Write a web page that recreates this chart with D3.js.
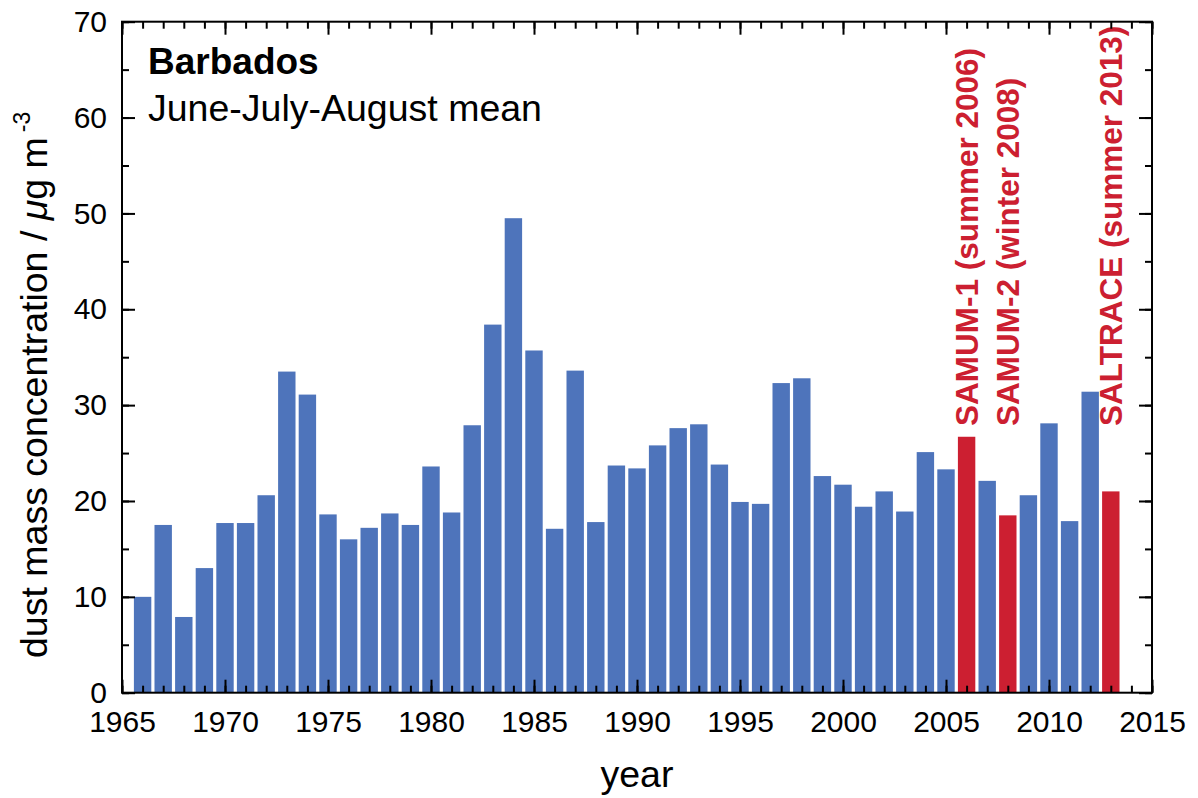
<!DOCTYPE html>
<html>
<head>
<meta charset="utf-8">
<script src="https://cdn.jsdelivr.net/npm/d3@7"></script>
<style>
  html, body { margin: 0; padding: 0; background: #fff; }
  svg { display: block; font-family: "Liberation Sans", Arial, sans-serif; }
</style>
</head>
<body>
<svg id="chart" width="1198" height="798"></svg>
<script>
// ---- data ----
const years = [1966,1967,1968,1969,1970,1971,1972,1973,1974,1975,1976,1977,1978,1979,1980,
  1981,1982,1983,1984,1985,1986,1987,1988,1989,1990,1991,1992,1993,1994,1995,1996,1997,1998,
  1999,2000,2001,2002,2003,2004,2005,2006,2007,2008,2009,2010,2011,2012,2013];
const dust = [10.0,17.5,7.9,13.0,17.7,17.7,20.6,33.5,31.1,18.6,16.0,17.2,18.7,17.5,23.6,
  18.8,27.9,38.4,49.5,35.7,17.1,33.6,17.8,23.7,23.4,25.8,27.6,28.0,23.8,19.9,19.7,32.3,32.8,
  22.6,21.7,19.4,21.0,18.9,25.1,23.3,26.7,22.1,18.5,20.6,28.1,17.9,31.4,21.0];
const campaignYears = [2006, 2008, 2013];
const campaignLabels = ["SAMUM-1 (summer 2006)", "SAMUM-2 (winter 2008)", "SALTRACE (summer 2013)"];
const xTicks = [1965,1970,1975,1980,1985,1990,1995,2000,2005,2010,2015];
const yTicks = [0,10,20,30,40,50,60,70];

// ---- layout ----
const svg = d3.select("#chart");
const L = 122, R = 1152, T = 21.7, B = 692.7;
const x = d3.scaleLinear().domain([1965, 2015]).range([L, R]);
const y = d3.scaleLinear().domain([0, 70]).range([B, T]);
const barW = (x(1966) - x(1965)) * 0.845;
const blue = "#4E74BB", red = "#CC1F31";

// bars
svg.append("g").selectAll("rect")
  .data(years.map((yr, i) => ({ yr, v: dust[i] })))
  .join("rect")
  .attr("x", d => x(d.yr) - barW / 2)
  .attr("width", barW)
  .attr("y", d => y(d.v))
  .attr("height", d => y(0) - y(d.v))
  .attr("fill", d => campaignYears.includes(d.yr) ? red : blue);

// campaign labels
svg.append("g").selectAll("text")
  .data(campaignYears.map((yr, i) => ({ yr, t: campaignLabels[i] })))
  .join("text")
  .attr("transform", d => `translate(${x(d.yr) + 11.5},426) rotate(-90)`)
  .attr("fill", red)
  .attr("font-weight", "bold")
  .attr("font-size", 31.5)
  .text(d => d.t);

// axes
const minorYears = d3.range(1965, 2016);
const minorY = d3.range(0, 71, 5);
function styleAxis(g) {
  g.select(".domain").remove();
  g.selectAll("line").attr("stroke", "#000").attr("stroke-width", 2);
  g.selectAll("text").attr("font-size", 30).attr("fill", "#000")
    .attr("font-family", '"Liberation Sans", Arial, sans-serif');
}
// bottom
svg.append("g").attr("transform", `translate(0,${B})`)
  .call(d3.axisBottom(x).tickValues(minorYears).tickSize(-7).tickFormat("")).call(styleAxis);
svg.append("g").attr("transform", `translate(0,${B})`)
  .call(d3.axisBottom(x).tickValues(xTicks).tickSize(-13).tickPadding(18).tickFormat(d3.format("d")))
  .call(styleAxis);
// top
svg.append("g").attr("transform", `translate(0,${T})`)
  .call(d3.axisTop(x).tickValues(minorYears).tickSize(-7).tickFormat("")).call(styleAxis);
svg.append("g").attr("transform", `translate(0,${T})`)
  .call(d3.axisTop(x).tickValues(xTicks).tickSize(-13).tickFormat("")).call(styleAxis);
// left
svg.append("g").attr("transform", `translate(${L},0)`)
  .call(d3.axisLeft(y).tickValues(minorY).tickSize(-7).tickFormat("")).call(styleAxis);
svg.append("g").attr("transform", `translate(${L},0)`)
  .call(d3.axisLeft(y).tickValues(yTicks).tickSize(-13).tickPadding(15).tickFormat(d3.format("d")))
  .call(styleAxis);
// right
svg.append("g").attr("transform", `translate(${R},0)`)
  .call(d3.axisRight(y).tickValues(minorY).tickSize(-7).tickFormat("")).call(styleAxis);
svg.append("g").attr("transform", `translate(${R},0)`)
  .call(d3.axisRight(y).tickValues(yTicks).tickSize(-13).tickFormat("")).call(styleAxis);

// frame
svg.append("rect").attr("x", L).attr("y", T).attr("width", R - L).attr("height", B - T)
  .attr("fill", "none").attr("stroke", "#000").attr("stroke-width", 2);

// titles inside plot
svg.append("text").attr("x", 148).attr("y", 74).attr("font-size", 37).attr("font-weight", "bold")
  .text("Barbados");
svg.append("text").attr("x", 148).attr("y", 120.5).attr("font-size", 37.5)
  .text("June-July-August mean");

// axis titles
svg.append("text").attr("x", (L + R) / 2).attr("y", 787).attr("text-anchor", "middle")
  .attr("font-size", 37.5).text("year");
const yl = svg.append("text").attr("transform", "translate(47,658) rotate(-90)").attr("font-size", 37.5);
yl.append("tspan").text("dust mass concentration / ");
yl.append("tspan").attr("font-style", "italic").text("\u03BC");
yl.append("tspan").text("g m");
yl.append("tspan").attr("font-size", 23).attr("dy", -17).attr("dx", 5).text("-3");
</script>
</body>
</html>
